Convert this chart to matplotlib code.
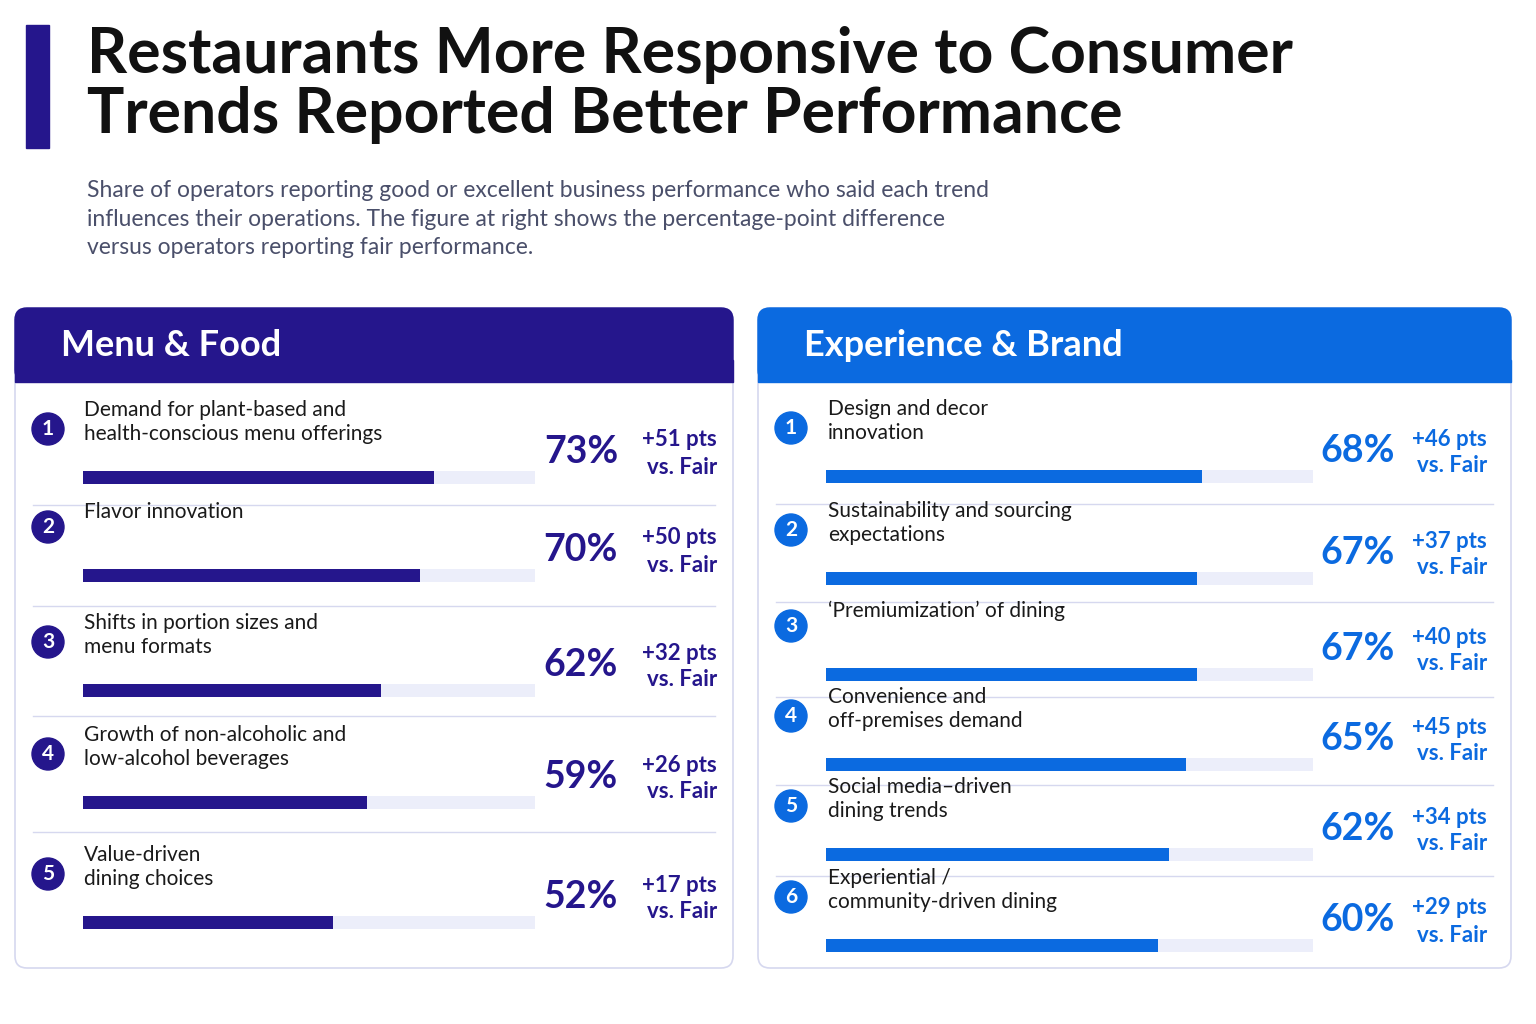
import matplotlib.pyplot as plt
from matplotlib.patches import FancyBboxPatch, Rectangle, Circle

plt.rcParams['font.family'] = ['Lato', 'DejaVu Sans']

title = "Restaurants More Responsive to Consumer\nTrends Reported Better Performance"
subtitle = ("Share of operators reporting good or excellent business performance who said each trend\n"
            "influences their operations. The figure at right shows the percentage-point difference\n"
            "versus operators reporting fair performance.")

menu_labels = ["Demand for plant-based and\nhealth-conscious menu offerings",
               "Flavor innovation",
               "Shifts in portion sizes and\nmenu formats",
               "Growth of non-alcoholic and\nlow-alcohol beverages",
               "Value-driven\ndining choices"]
menu_values = [73, 70, 62, 59, 52]
menu_diff = [51, 50, 32, 26, 17]

exp_labels = ["Design and decor\ninnovation",
              "Sustainability and sourcing\nexpectations",
              "\u2018Premiumization\u2019 of dining",
              "Convenience and\noff-premises demand",
              "Social media\u2013driven\ndining trends",
              "Experiential /\ncommunity-driven dining"]
exp_values = [68, 67, 67, 65, 62, 60]
exp_diff = [46, 37, 40, 45, 34, 29]

INDIGO = "#25168c"
BLUE = "#0b6ae0"
TRACK = "#eceefa"
SEP = "#d6d8ef"

fig = plt.figure(figsize=(15.36, 10.24), dpi=100)
ax = fig.add_axes([0, 0, 1, 1])
ax.set_xlim(0, 1536)
ax.set_ylim(1024, 0)
ax.axis("off")

ax.add_patch(Rectangle((26, 25), 23, 123, color=INDIGO))
ax.text(87, 85, title, fontsize=45, fontweight="bold", color="#111111",
        va="center", linespacing=1.05)
ax.text(87, 219, subtitle, fontsize=16.5, color="#4a4f6a", va="center", linespacing=1.45)


def panel(x0, x1, color, name, labels, values, diffs, bar_y, seps, scale,
          track_x0, track_x1, lab_x, pct_x, pts_x):
    ax.add_patch(FancyBboxPatch((x0, 308), x1 - x0, 660, boxstyle="round,pad=0,rounding_size=12",
                                fc="white", ec=SEP, lw=1.2))
    ax.add_patch(FancyBboxPatch((x0, 308), x1 - x0, 74, boxstyle="round,pad=0,rounding_size=12",
                                fc=color, ec=color))
    ax.add_patch(Rectangle((x0, 360), x1 - x0, 22, color=color))
    ax.text(x0 + 46, 346, name, fontsize=26, fontweight="bold", color="white", va="center")
    tw = track_x1 - track_x0
    ax.barh(bar_y, [tw] * len(values), left=track_x0, height=13, color=TRACK)
    ax.barh(bar_y, [v / scale * tw for v in values], left=track_x0, height=13, color=color)
    for i, (y, lab, v, d) in enumerate(zip(bar_y, labels, values, diffs)):
        ty = y - 43
        ax.add_patch(Circle((x0 + 33, ty - 5), 16, color=color))
        ax.text(x0 + 33, ty - 5, str(i + 1), color="white", fontsize=15,
                fontweight="bold", ha="center", va="center")
        ax.text(lab_x, ty - 12 if "\n" in lab else ty - 20, lab, fontsize=15, color="#1a1a1a",
                va="center", linespacing=1.25)
        ax.text(pct_x, y - 25, f"{v}%", fontsize=27, fontweight="bold", color=color,
                ha="right", va="center")
        ax.text(pts_x, y - 37, f"+{d} pts", fontsize=16, fontweight="bold", color=color,
                ha="right", va="center")
        ax.text(pts_x, y - 10, "vs. Fair", fontsize=16, fontweight="bold", color=color,
                ha="right", va="center")
    for s in seps:
        ax.plot([x0 + 18, x1 - 18], [s, s], color=SEP, lw=1)


panel(15, 733, INDIGO, "Menu & Food", menu_labels, menu_values, menu_diff,
      [477, 575, 690, 802, 922], [505, 606, 716, 832], 94, 83, 535, 84, 618, 717)
panel(758, 1511, BLUE, "Experience & Brand", exp_labels, exp_values, exp_diff,
      [476, 578, 674, 764, 854, 945], [504, 602, 697, 785, 876], 88, 826, 1313, 828, 1395, 1487)

fig.savefig("out.png", dpi=100, facecolor="white")
